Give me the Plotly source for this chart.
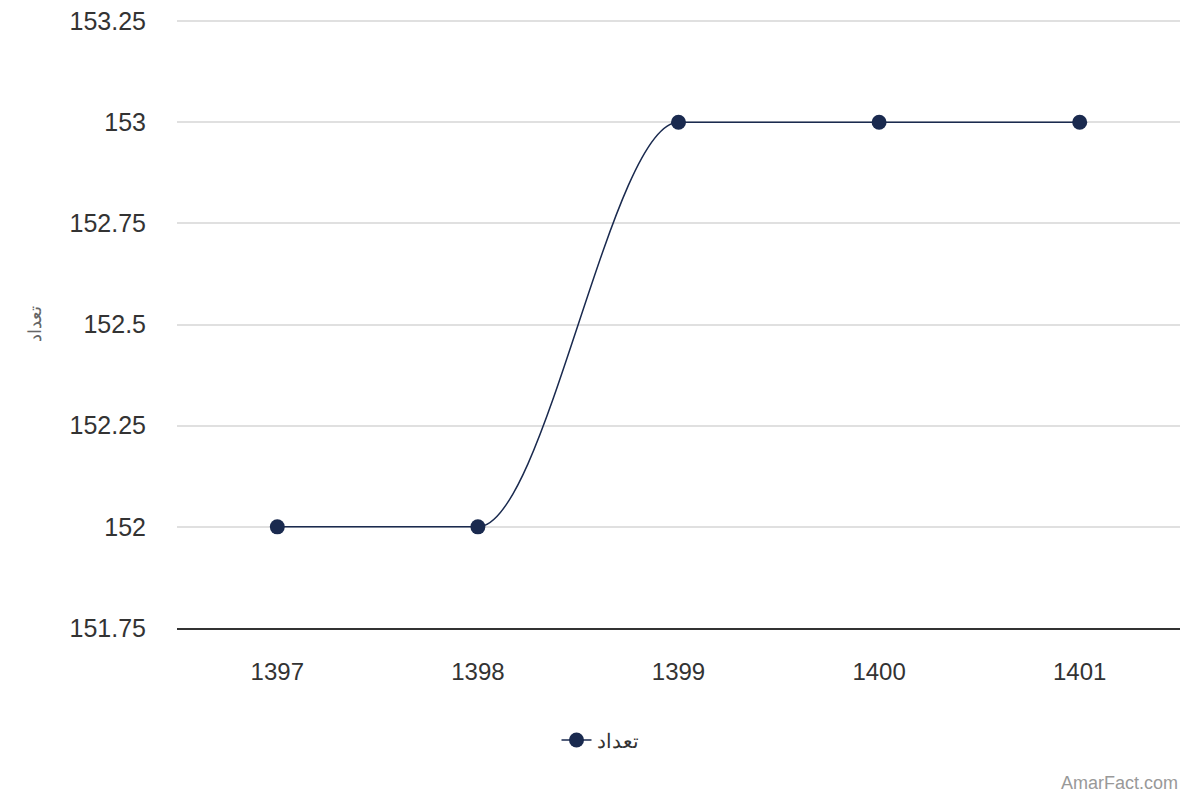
import plotly.graph_objects as go

years = [1397, 1398, 1399, 1400, 1401]
values = [152, 152, 153, 153, 153]
series_name = "تعداد"
y_ticks = [151.75, 152, 152.25, 152.5, 152.75, 153, 153.25]
y_tick_text = ["151.75", "152", "152.25", "152.5", "152.75", "153", "153.25"]

color = "#1a2a4f"


def monotone_path(xs, ys):
    """SVG cubic Bezier path through the data points (monotone cubic, Fritsch-Carlson)."""
    n = len(xs)
    d = [(ys[i + 1] - ys[i]) / (xs[i + 1] - xs[i]) for i in range(n - 1)]
    m = [0.0] * n
    m[0], m[-1] = d[0], d[-1]
    for i in range(1, n - 1):
        if d[i - 1] * d[i] <= 0:
            m[i] = 0.0
        else:
            m[i] = (d[i - 1] + d[i]) / 2
    for i in range(n - 1):
        if d[i] == 0:
            m[i] = 0.0
            m[i + 1] = 0.0
    path = f"M {xs[0]},{ys[0]}"
    for i in range(n - 1):
        h = xs[i + 1] - xs[i]
        c1x, c1y = xs[i] + h / 3, ys[i] + m[i] * h / 3
        c2x, c2y = xs[i + 1] - h / 3, ys[i + 1] - m[i + 1] * h / 3
        path += f" C {c1x},{c1y} {c2x},{c2y} {xs[i + 1]},{ys[i + 1]}"
    return path


fig = go.Figure()
# markers (data points)
fig.add_trace(go.Scatter(
    x=years, y=values, name=series_name, mode="markers",
    marker=dict(color=color, size=15), showlegend=False,
))
# legend entry
fig.add_trace(go.Scatter(
    x=[None], y=[None], name=series_name, mode="lines+markers",
    line=dict(color=color, width=1.5), marker=dict(color=color, size=15),
    showlegend=True,
))

fig.add_shape(type="path", path=monotone_path(years, values), xref="x", yref="y",
              line=dict(color=color, width=1.5), layer="between")

fig.update_layout(
    width=1200, height=800,
    margin=dict(l=177, r=20, t=20, b=172),
    paper_bgcolor="white", plot_bgcolor="white",
    font=dict(family="Liberation Sans, Arial, sans-serif", color="#333333"),
    showlegend=True,
    legend=dict(orientation="h", xref="container", x=0.5, xanchor="center",
                yref="container", y=0.075, yanchor="middle",
                font=dict(size=20, color="#333333")),
    xaxis=dict(range=[1396.5, 1401.5], tickvals=years, ticktext=[str(y) for y in years],
               showgrid=False, zeroline=False, automargin=False,
               showline=True, linecolor="#333333", linewidth=1.5,
               ticks="", tickfont=dict(size=24, color="#333333"), ticklabelstandoff=21),
    yaxis=dict(range=[151.75, 153.2525], tickvals=y_ticks, ticktext=y_tick_text,
               showgrid=True, gridcolor="#e0e0e0", gridwidth=1.5, zeroline=False,
               showline=False, automargin=False, tickfont=dict(size=25, color="#333333"),
               ticklabelstandoff=30,
               title=dict(text=series_name, font=dict(size=18, color="#666666"), standoff=23)),
    annotations=[dict(text="AmarFact.com", xref="paper", yref="paper",
                      x=1.0, y=-0.255, xanchor="right", yanchor="middle",
                      showarrow=False, font=dict(size=18, color="#999999"))],
)

fig.write_html("out.html")
